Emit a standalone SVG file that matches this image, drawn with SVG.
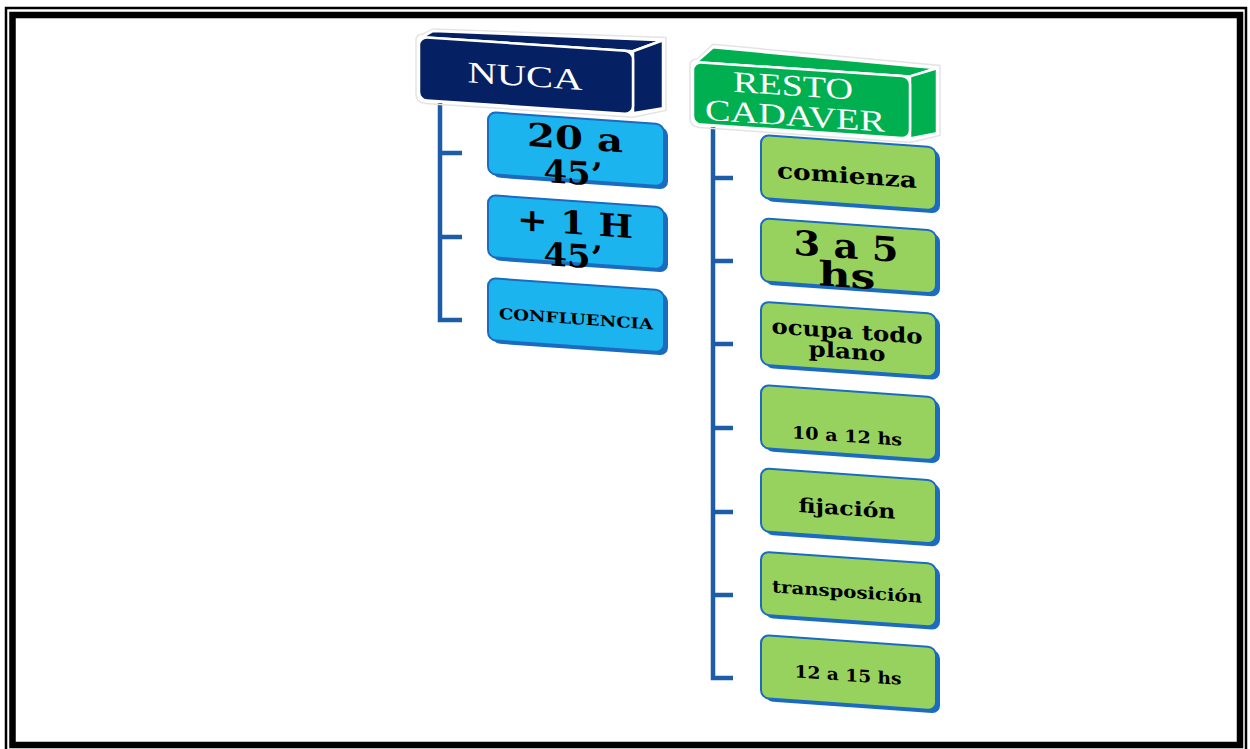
<svg xmlns="http://www.w3.org/2000/svg" width="1250" height="749" viewBox="0 0 1250 749">
<style>
.frame-thin{fill:none;stroke:#000;stroke-width:2.5}
.frame-thick{fill:none;stroke:#000;stroke-width:6.5}
.navy{fill:#062163;stroke:#fff;stroke-width:2.5;stroke-linejoin:round}
.green{fill:#00b050;stroke:#fff;stroke-width:2.5;stroke-linejoin:round}
.halo{fill:none;stroke:#e4e4e4;stroke-width:1.5}
.htxt{font-family:"Liberation Serif","DejaVu Serif",serif;font-size:30px;fill:#fff;text-anchor:middle}
.shadow{fill:#1b6cc0}
.bbox{fill:#1cb4ee;stroke:#1b6cc0;stroke-width:2}
.gbox{fill:#98d25e;stroke:#1b6cc0;stroke-width:2}
.btxt{font-family:"DejaVu Serif","Liberation Serif",serif;font-weight:bold;fill:#000;text-anchor:middle}
.conn{fill:none;stroke:#1c5ca8;stroke-width:4.5;stroke-linejoin:miter}
</style>

<!-- page border -->
<g id="border">
<path class="frame-thin" d="M6 760 V8 H1246 V760"/>
<rect class="frame-thick" x="12.5" y="15" width="1227.5" height="730"/>
</g>

<!-- connectors -->
<g id="connectors">
<path class="conn" d="M440 103 V320 H462 M440 153 H462 M440 237 H462"/>
<path class="conn" d="M713 127 V678 H733 M713 178 H733 M713 261 H733 M713 344 H733 M713 428 H733 M713 512 H733 M713 595 H733"/>
</g>

<!-- headers -->
<g id="nuca" transform="translate(419,37) skewY(3.8)">
<path class="halo" d="M-3 4 Q-3 -3 4 -3 L14 -9 L247 -16 L247 57 L214 66 L6 66 Q-3 66 -3 57 Z"/>
<polygon class="navy" points="3,0 214,0 244,-13 14,-7"/>
<polygon class="navy" points="214,0 244,-13 244,55 214,62"/>
<rect class="navy" x="0" y="0" width="214" height="63" rx="8"/>
<text class="htxt" x="106" y="42" textLength="115" lengthAdjust="spacingAndGlyphs">NUCA</text>
</g>

<g id="resto-cadaver" transform="translate(693,62) skewY(3.8)">
<path class="halo" d="M-3 4 Q-3 -3 4 -3 L20 -19 L247 -13 L247 57 L217 66 L6 65 Q-3 65 -3 56 Z"/>
<polygon class="green" points="3,0 217,0 244,-10 20,-16"/>
<polygon class="green" points="217,0 244,-10 244,55 217,62"/>
<rect class="green" x="0" y="0" width="217" height="62" rx="8"/>
<text class="htxt" x="100" y="27" textLength="120" lengthAdjust="spacingAndGlyphs">RESTO</text>
<text class="htxt" x="102" y="57" textLength="180" lengthAdjust="spacingAndGlyphs">CADAVER</text>
</g>

<!-- NUCA children -->
<g id="n1" transform="translate(488,112) skewY(4)">
<rect class="shadow" x="4" y="3" width="176" height="62" rx="8"/>
<rect class="bbox" x="0" y="0" width="176" height="62" rx="8"/>
<text class="btxt" x="87" y="31" font-size="32" textLength="96" lengthAdjust="spacingAndGlyphs">20 a</text>
<text class="btxt" x="85" y="66" font-size="32" textLength="59" lengthAdjust="spacingAndGlyphs">45’</text>
</g>
<g id="n2" transform="translate(488,195) skewY(4)">
<rect class="shadow" x="4" y="3" width="176" height="62" rx="8"/>
<rect class="bbox" x="0" y="0" width="176" height="62" rx="8"/>
<text class="btxt" x="87" y="33" font-size="32" textLength="116" lengthAdjust="spacingAndGlyphs">+ 1 H</text>
<text class="btxt" x="85" y="66" font-size="32" textLength="59" lengthAdjust="spacingAndGlyphs">45’</text>
</g>
<g id="n3" transform="translate(488,278) skewY(4)">
<rect class="shadow" x="4" y="3" width="176" height="62" rx="8"/>
<rect class="bbox" x="0" y="0" width="176" height="62" rx="8"/>
<text class="btxt" x="88" y="40" font-size="15" textLength="154" lengthAdjust="spacingAndGlyphs">CONFLUENCIA</text>
</g>

<!-- RESTO CADAVER children -->
<g id="r1" transform="translate(761,135) skewY(4)">
<rect class="shadow" x="4" y="3" width="175" height="63" rx="8"/>
<rect class="gbox" x="0" y="0" width="175" height="63" rx="8"/>
<text class="btxt" x="86" y="42" font-size="22" textLength="140" lengthAdjust="spacingAndGlyphs">comienza</text>
</g>
<g id="r2" transform="translate(761,218.3) skewY(4)">
<rect class="shadow" x="4" y="3" width="175" height="63" rx="8"/>
<rect class="gbox" x="0" y="0" width="175" height="63" rx="8"/>
<text class="btxt" x="85" y="34" font-size="34" textLength="105" lengthAdjust="spacingAndGlyphs">3 a 5</text>
<text class="btxt" x="86" y="63" font-size="34" textLength="57" lengthAdjust="spacingAndGlyphs">hs</text>
</g>
<g id="r3" transform="translate(761,301.6) skewY(4)">
<rect class="shadow" x="4" y="3" width="175" height="63" rx="8"/>
<rect class="gbox" x="0" y="0" width="175" height="63" rx="8"/>
<text class="btxt" x="86" y="31" font-size="21" textLength="151" lengthAdjust="spacingAndGlyphs">ocupa todo</text>
<text class="btxt" x="86" y="51" font-size="21" textLength="77" lengthAdjust="spacingAndGlyphs">plano</text>
</g>
<g id="r4" transform="translate(761,385) skewY(4)">
<rect class="shadow" x="4" y="3" width="175" height="63" rx="8"/>
<rect class="gbox" x="0" y="0" width="175" height="63" rx="8"/>
<text class="btxt" x="86" y="51" font-size="17" textLength="110" lengthAdjust="spacingAndGlyphs">10 a 12 hs</text>
</g>
<g id="r5" transform="translate(761,468.3) skewY(4)">
<rect class="shadow" x="4" y="3" width="175" height="63" rx="8"/>
<rect class="gbox" x="0" y="0" width="175" height="63" rx="8"/>
<text class="btxt" x="86" y="41" font-size="20" textLength="97" lengthAdjust="spacingAndGlyphs">fijación</text>
</g>
<g id="r6" transform="translate(761,551.6) skewY(4)">
<rect class="shadow" x="4" y="3" width="175" height="63" rx="8"/>
<rect class="gbox" x="0" y="0" width="175" height="63" rx="8"/>
<text class="btxt" x="86" y="40" font-size="17" textLength="150" lengthAdjust="spacingAndGlyphs">transposición</text>
</g>
<g id="r7" transform="translate(761,635) skewY(4)">
<rect class="shadow" x="4" y="3" width="175" height="63" rx="8"/>
<rect class="gbox" x="0" y="0" width="175" height="63" rx="8"/>
<text class="btxt" x="87" y="40" font-size="17" textLength="107" lengthAdjust="spacingAndGlyphs">12 a 15 hs</text>
</g>
</svg>
